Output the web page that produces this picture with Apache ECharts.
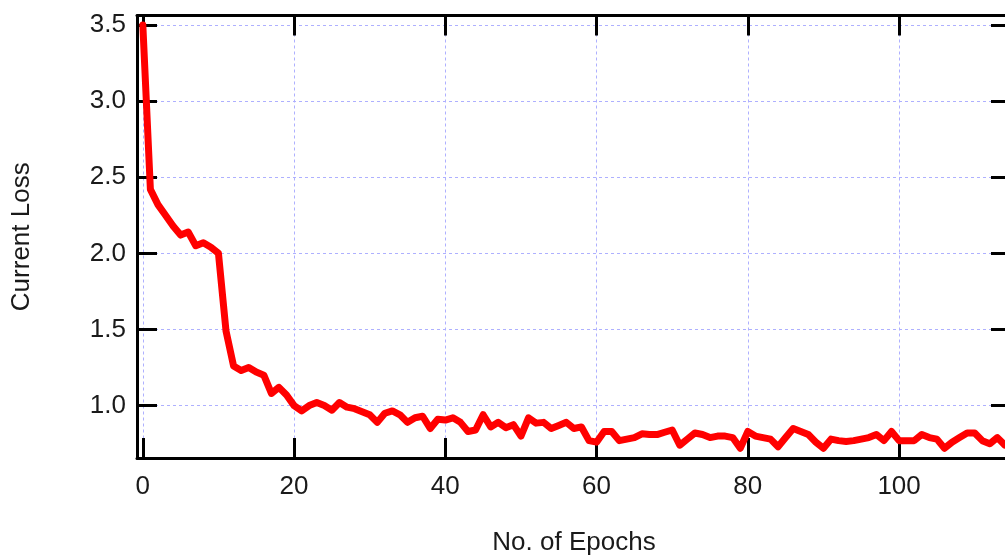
<!DOCTYPE html>
<html>
<head>
<meta charset="utf-8">
<script src="https://cdn.jsdelivr.net/npm/echarts@6/dist/echarts.min.js"></script>
<style>
  html, body { margin: 0; padding: 0; background: #fff; }
  #chart { width: 1005px; height: 556px; }
</style>
</head>
<body>
<div id="chart"></div>
<script>
// Training loss recorded once per epoch, starting at epoch 0
const lossValues = [
  3.50, 2.42, 2.32, 2.25, 2.18, 2.12, 2.14, 2.05, 2.07, 2.04,
  2.00, 1.49, 1.26, 1.23, 1.25, 1.22, 1.20, 1.08, 1.12, 1.07,
  1.00, 0.965, 1.00, 1.02, 1.00, 0.97, 1.02, 0.99, 0.98, 0.96,
  0.94, 0.89, 0.95, 0.965, 0.94, 0.89, 0.92, 0.93, 0.85, 0.91,
  0.905, 0.92, 0.89, 0.83, 0.84, 0.94, 0.86, 0.89, 0.855, 0.875,
  0.80, 0.92, 0.885, 0.89, 0.85, 0.87, 0.89, 0.85, 0.86, 0.77,
  0.76, 0.83, 0.83, 0.77, 0.78, 0.79, 0.815, 0.81, 0.81, 0.825,
  0.84, 0.74, 0.78, 0.82, 0.81, 0.79, 0.80, 0.80, 0.79, 0.72,
  0.83, 0.80, 0.79, 0.78, 0.73, 0.79, 0.85, 0.83, 0.81, 0.76,
  0.72, 0.78, 0.77, 0.765, 0.77, 0.78, 0.79, 0.81, 0.77, 0.83,
  0.77, 0.77, 0.77, 0.81, 0.79, 0.78, 0.72, 0.76, 0.79, 0.82,
  0.82, 0.77, 0.75, 0.79, 0.74, 0.76
];
const xTicks = [0, 20, 40, 60, 80, 100];
const yTicks = [1.0, 1.5, 2.0, 2.5, 3.0, 3.5];

const seriesData = lossValues.map((v, i) => [i, v]);

const FONT = 'Liberation Sans, Arial, sans-serif';
const TEXT = '#1a1a1a';
const frameLine = { color: '#000', width: 3 };
const gridDash = { color: '#aeb0ff', width: 1, type: [3, 3] };

const xRange = { min: -0.77, max: 114.8 };
const yRange = { min: 0.656, max: 3.562 };

const chart = echarts.init(document.getElementById('chart'), null, { renderer: 'canvas' });
chart.setOption({
  animation: false,
  backgroundColor: '#fff',
  grid: { left: 137, right: -6, top: 15.5, bottom: 98, containLabel: false, outerBoundsMode: 'none' },
  xAxis: [
    {
      type: 'value', position: 'bottom', ...xRange,
      name: 'No. of Epochs', nameLocation: 'middle', nameGap: 72,
      nameTextStyle: { fontFamily: FONT, fontSize: 26, color: TEXT },
      axisLine: { show: true, onZero: false, lineStyle: frameLine },
      axisTick: { show: true, inside: true, length: 20, customValues: xTicks, lineStyle: frameLine },
      axisLabel: { show: true, margin: 16, customValues: xTicks, fontFamily: FONT, fontSize: 26, color: TEXT },
      splitLine: { show: true, lineStyle: gridDash }
    },
    {
      type: 'value', position: 'top', ...xRange,
      axisLine: { show: true, onZero: false, lineStyle: frameLine },
      axisTick: { show: true, inside: true, length: 20, customValues: xTicks, lineStyle: frameLine },
      axisLabel: { show: false },
      splitLine: { show: false }
    }
  ],
  yAxis: [
    {
      type: 'value', position: 'left', ...yRange,
      name: 'Current Loss', nameLocation: 'middle', nameGap: 102,
      nameTextStyle: { fontFamily: FONT, fontSize: 26, color: TEXT },
      axisLine: { show: true, onZero: false, lineStyle: frameLine },
      axisTick: { show: true, inside: true, length: 20, customValues: yTicks, lineStyle: frameLine },
      axisLabel: {
        show: true, margin: 11, customValues: yTicks,
        formatter: v => Number(v).toFixed(1),
        fontFamily: FONT, fontSize: 26, color: TEXT
      },
      splitLine: { show: true, lineStyle: gridDash }
    },
    {
      type: 'value', position: 'right', ...yRange,
      axisLine: { show: true, onZero: false, lineStyle: frameLine },
      axisTick: { show: true, inside: true, length: 20, customValues: yTicks, lineStyle: frameLine },
      axisLabel: { show: false },
      splitLine: { show: false }
    }
  ],
  series: [
    {
      type: 'line',
      xAxisIndex: 0, yAxisIndex: 0,
      data: seriesData,
      showSymbol: false,
      symbol: 'none',
      clip: true,
      lineStyle: { color: '#ff0000', width: 7, join: 'round', cap: 'round' },
      z: 3
    }
  ]
});
</script>
</body>
</html>
